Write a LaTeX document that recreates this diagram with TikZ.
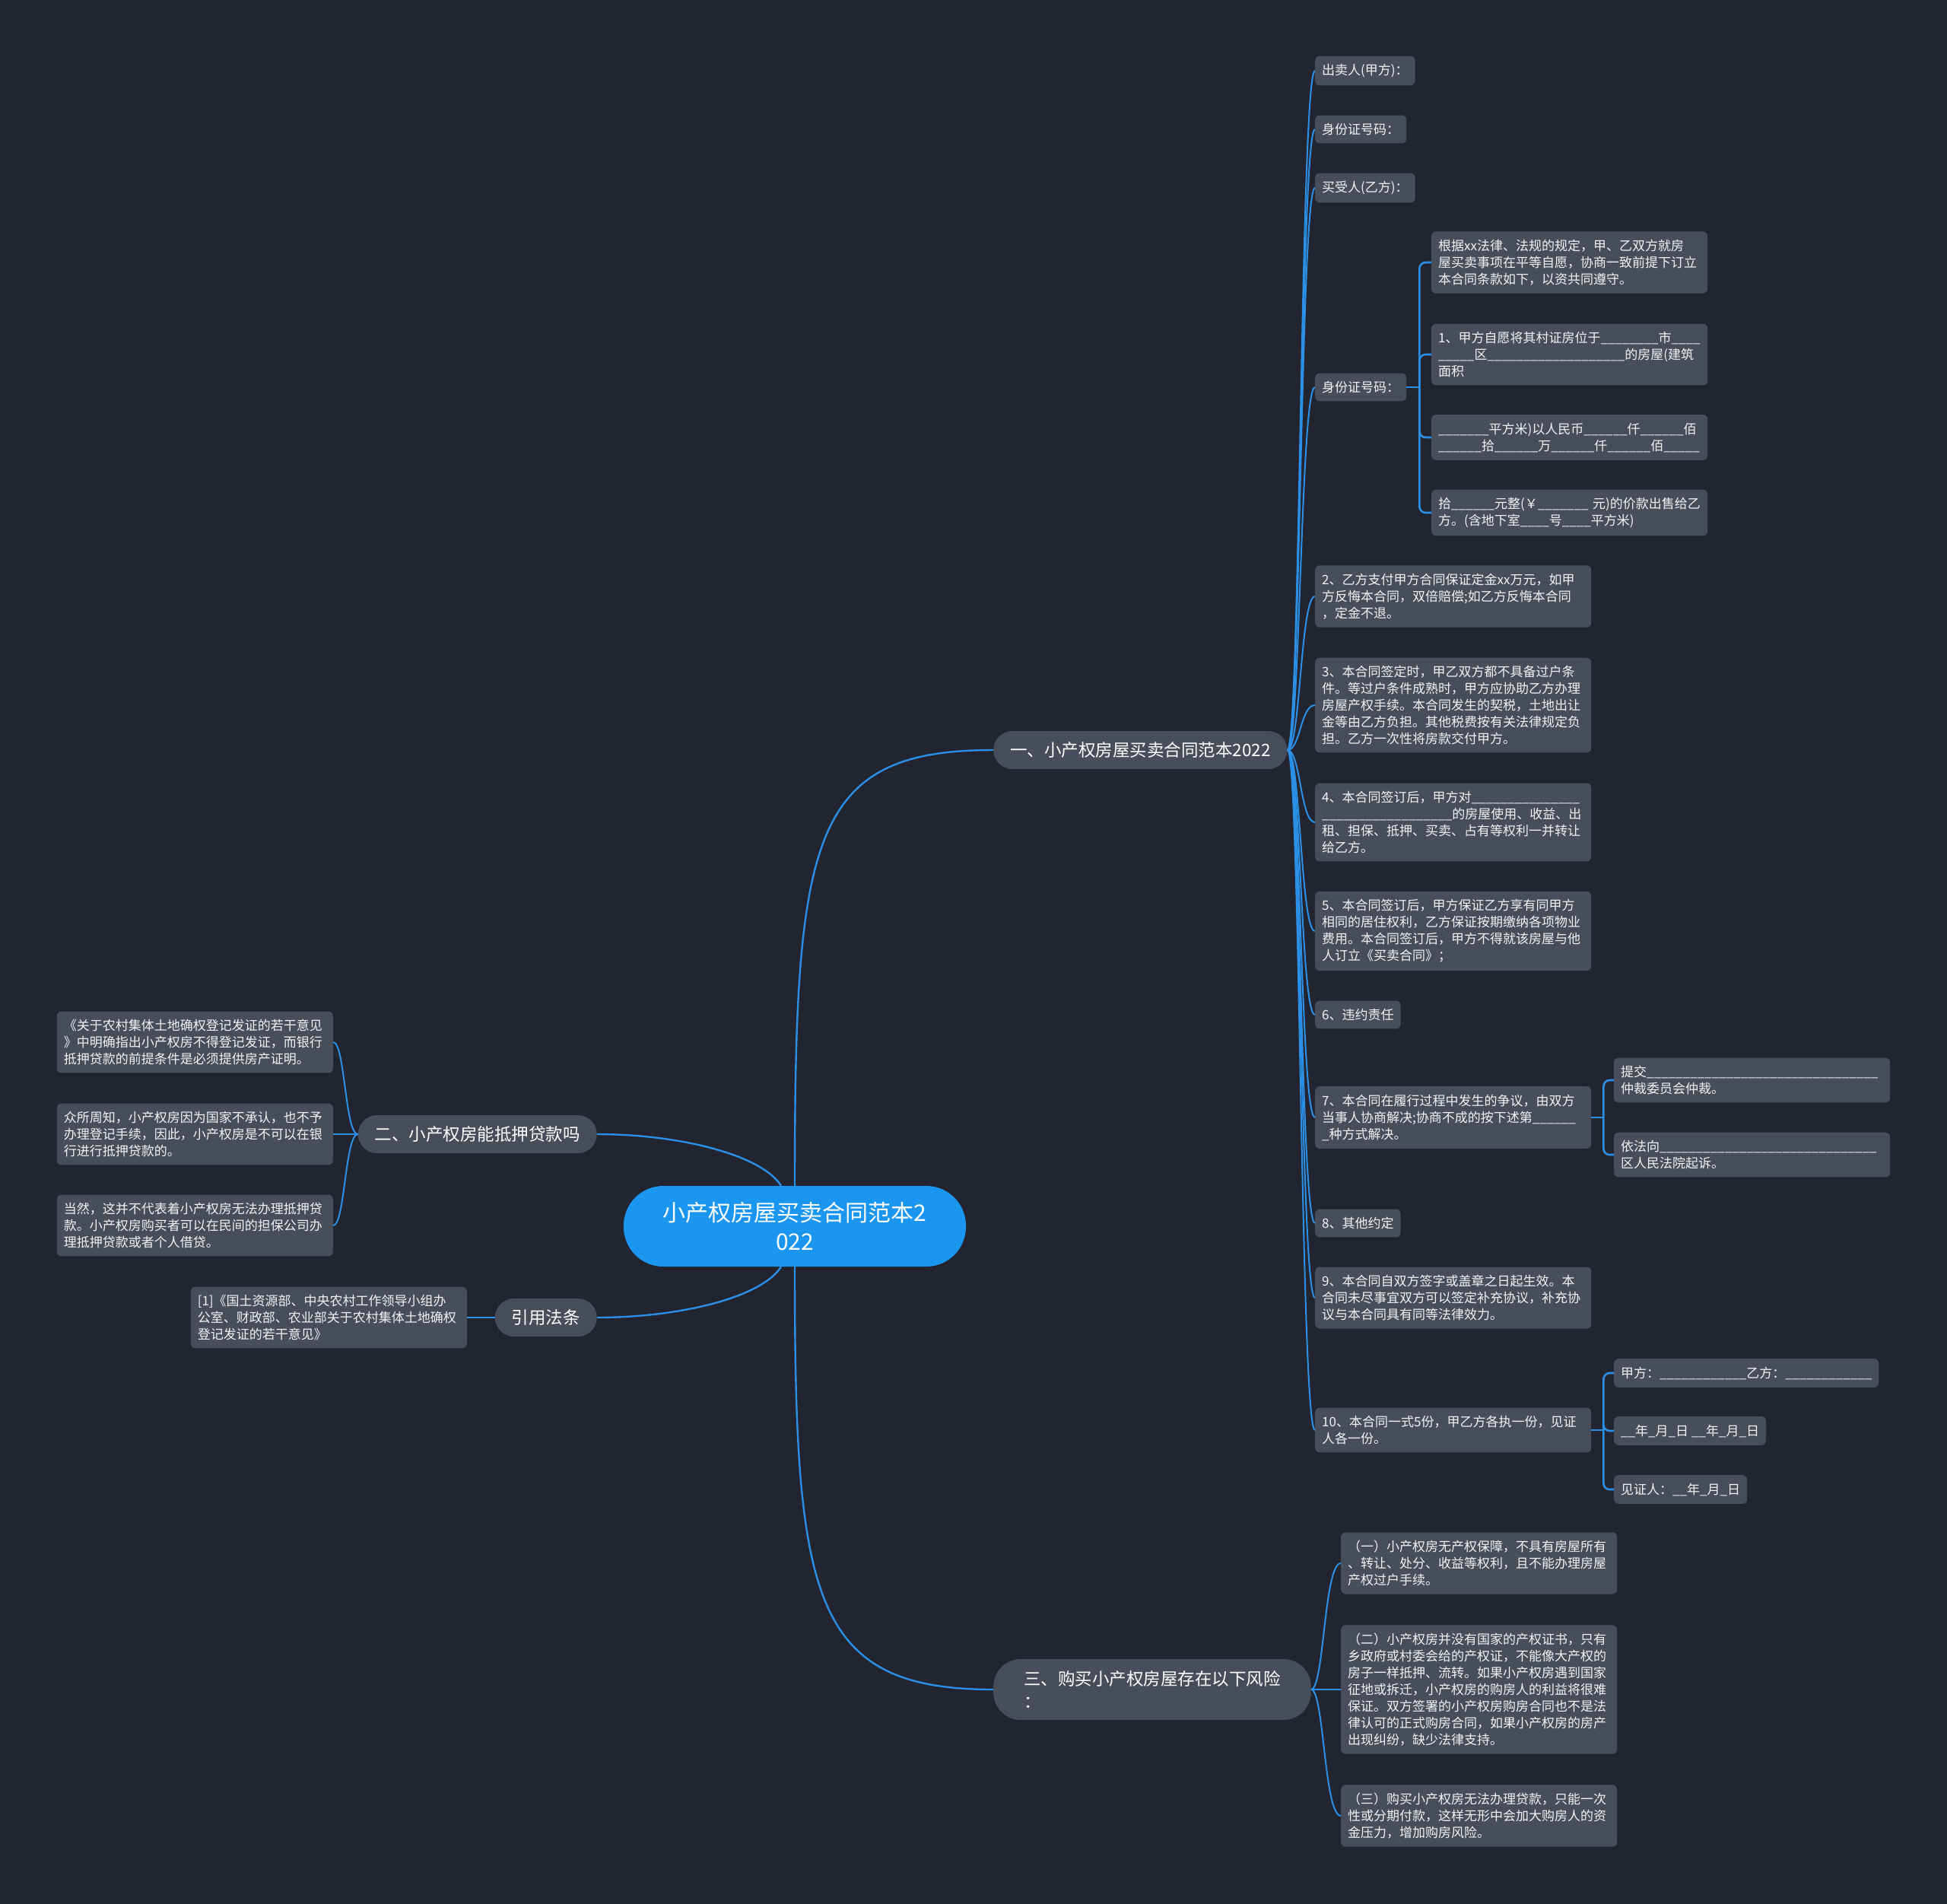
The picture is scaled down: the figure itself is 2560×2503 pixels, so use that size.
\documentclass[tikz,border=0pt]{standalone}
\usepackage{fontspec}
\setmainfont{Noto Sans CJK SC}
\usepackage{tikz}
\definecolor{bgnavy}{HTML}{22252F}
\definecolor{boxgray}{HTML}{474D5B}
\definecolor{linkblue}{HTML}{2B8FE6}
\definecolor{rootblue}{HTML}{1A96F0}
\definecolor{paper}{HTML}{F2F3F5}
\newcommand{\blank}[1]{\foreach \k in {1,...,#1}{\_}}

\tikzset{
  rootbox/.style={fill=rootblue, text=white, rounded corners=52pt, minimum width=450pt,
    minimum height=106pt, align=center, font=\fontsize{30}{38}\selectfont},
  topicbox/.style={fill=boxgray, text=white, rounded corners=25pt, minimum height=50pt,
    inner xsep=22pt, font=\fontsize{22.5}{30}\selectfont},
  leafbox/.style={fill=boxgray, text=paper, rounded corners=6pt, inner xsep=9pt,
    inner ysep=10.5pt, align=left, anchor=west, font=\fontsize{17}{22}\selectfont},
  longleaf/.style={leafbox, text width=345pt},
  rootlink/.style={draw=linkblue, line width=2.4pt},
  curvelink/.style={draw=linkblue, line width=2pt},
  elbowlink/.style={draw=linkblue, line width=2.6pt, rounded corners=8pt},
}

\begin{document}
\begin{tikzpicture}[x=1pt, y=-1pt]
\fill[bgnavy] (0,0) rectangle (2560,2503);

% centre and main topics
\node[rootbox] (root) at (1045,1612) {小产权房屋买卖合同范本2\\022};
\node[topicbox, anchor=west] (contract) at (1306,986) {一、小产权房屋买卖合同范本2022};
\node[topicbox, anchor=east] (loan) at (785,1491) {二、小产权房能抵押贷款吗};
\node[topicbox, anchor=east] (cite) at (785,1732) {引用法条};
\node[topicbox, anchor=west, rounded corners=36pt, minimum height=80pt, inner xsep=40pt,
  align=left] (risk) at (1306,2221) {三、购买小产权房屋存在以下风险\\：};

% contract
\node[leafbox] (seller) at (1729,93) {出卖人(甲方)：};
\node[leafbox] (idA) at (1729,170) {身份证号码：};
\node[leafbox] (buyer) at (1729,247) {买受人(乙方)：};
\node[leafbox] (idB) at (1729,509) {身份证号码：};
\node[longleaf] (basis) at (1882,345) {根据xx法律、法规的规定，甲、乙双方就房\\屋买卖事项在平等自愿，协商一致前提下订立\\本合同条款如下，以资共同遵守。};
\node[longleaf] (house) at (1882,466) {1、甲方自愿将其村证房位于\blank{8}市\blank{4}\\\blank{5}区\blank{19}的房屋(建筑\\面积};
\node[longleaf] (price) at (1882,575) {\blank{7}平方米)以人民币\blank{6}仟\blank{6}佰\\\blank{6}拾\blank{6}万\blank{6}仟\blank{6}佰\blank{5}};
\node[longleaf] (total) at (1882,674) {拾\blank{6}元整(￥\blank{7} 元)的价款出售给乙\\方。(含地下室\blank{4}号\blank{4}平方米)};
\node[longleaf] (art2) at (1729,784) {2、乙方支付甲方合同保证定金xx万元，如甲\\方反悔本合同，双倍赔偿;如乙方反悔本合同\\，定金不退。};
\node[longleaf] (art3) at (1729,927) {3、本合同签定时，甲乙双方都不具备过户条\\件。等过户条件成熟时，甲方应协助乙方办理\\房屋产权手续。本合同发生的契税，土地出让\\金等由乙方负担。其他税费按有关法律规定负\\担。乙方一次性将房款交付甲方。};
\node[longleaf] (art4) at (1729,1081) {4、本合同签订后，甲方对\blank{15}\\\blank{18}的房屋使用、收益、出\\租、担保、抵押、买卖、占有等权利一并转让\\给乙方。};
\node[longleaf] (art5) at (1729,1224) {5、本合同签订后，甲方保证乙方享有同甲方\\相同的居住权利，乙方保证按期缴纳各项物业\\费用。本合同签订后，甲方不得就该房屋与他\\人订立《买卖合同》；};
\node[leafbox] (art6) at (1729,1334) {6、违约责任};
\node[longleaf] (art7) at (1729,1469) {7、本合同在履行过程中发生的争议，由双方\\当事人协商解决;协商不成的按下述第\blank{6}\\\_种方式解决。};
\node[longleaf] (arbit) at (2122,1420) {提交\blank{32}\\仲裁委员会仲裁。};
\node[longleaf] (court) at (2122,1518) {依法向\blank{30}\\区人民法院起诉。};
\node[leafbox] (art8) at (1729,1608) {8、其他约定};
\node[longleaf] (art9) at (1729,1706) {9、本合同自双方签字或盖章之日起生效。本\\合同未尽事宜双方可以签定补充协议，补充协\\议与本合同具有同等法律效力。};
\node[longleaf] (art10) at (1729,1880) {10、本合同一式5份，甲乙方各执一份，见证\\人各一份。};
\node[leafbox] (signA) at (2122,1805) {甲方：\blank{12}乙方：\blank{12}};
\node[leafbox] (signDate) at (2122,1881) {\blank{2}年\_月\_日 \blank{2}年\_月\_日};
\node[leafbox] (witness) at (2122,1958) {见证人：\blank{2}年\_月\_日};

% loan
\node[longleaf, anchor=east] (opinion) at (438,1370) {《关于农村集体土地确权登记发证的若干意见\\》中明确指出小产权房不得登记发证，而银行\\抵押贷款的前提条件是必须提供房产证明。};
\node[longleaf, anchor=east] (known) at (438,1491) {众所周知，小产权房因为国家不承认，也不予\\办理登记手续，因此，小产权房是不可以在银\\行进行抵押贷款的。};
\node[longleaf, anchor=east] (however) at (438,1611) {当然，这并不代表着小产权房无法办理抵押贷\\款。小产权房购买者可以在民间的担保公司办\\理抵押贷款或者个人借贷。};
\node[longleaf, anchor=east] (law) at (614,1732) {[1]《国土资源部、中央农村工作领导小组办\\公室、财政部、农业部关于农村集体土地确权\\登记发证的若干意见》};

% risk
\node[longleaf] (riskA) at (1763,2055) {（一）小产权房无产权保障，不具有房屋所有\\、转让、处分、收益等权利，且不能办理房屋\\产权过户手续。};
\node[longleaf] (riskB) at (1763,2221) {（二）小产权房并没有国家的产权证书，只有\\乡政府或村委会给的产权证，不能像大产权的\\房子一样抵押、流转。如果小产权房遇到国家\\征地或拆迁，小产权房的购房人的利益将很难\\保证。双方签署的小产权房购房合同也不是法\\律认可的正式购房合同，如果小产权房的房产\\出现纠纷，缺少法律支持。};
\node[longleaf] (riskC) at (1763,2387) {（三）购买小产权房无法办理贷款，只能一次\\性或分期付款，这样无形中会加大购房人的资\\金压力，增加购房风险。};

% links from the centre
\coordinate (rootNW) at ([xshift=-18pt]root.north);
\coordinate (rootSW) at ([xshift=-18pt]root.south);
\draw[rootlink] (root.north) .. controls +(0,-460) and +(-240,0) .. (contract.west);
\draw[rootlink] (root.south) .. controls +(0,435) and +(-240,0) .. (risk.west);
\draw[rootlink] (loan.east) .. controls +(110,0) and +(-25,-40) .. (rootNW);
\draw[rootlink] (cite.east) .. controls +(110,0) and +(-25,40) .. (rootSW);

% curved links
\coordinate (sp1) at ([xshift=17pt]contract.east);
\foreach \k in {seller,idA,buyer,idB,art2,art3,art4,art5,art6,art7,art8,art9,art10}
  \draw[curvelink] (contract.east) .. controls (sp1) and (sp1 |- \k.west) .. (\k.west);
\coordinate (sp2) at ([xshift=-17pt]loan.west);
\foreach \k in {opinion,known,however}
  \draw[curvelink] (loan.west) .. controls (sp2) and (sp2 |- \k.east) .. (\k.east);
\coordinate (sp3) at ([xshift=17pt]risk.east);
\foreach \k in {riskA,riskB,riskC}
  \draw[curvelink] (risk.east) .. controls (sp3) and (sp3 |- \k.west) .. (\k.west);

% elbow links
\coordinate (sp4) at ([xshift=17pt]idB.east);
\draw[elbowlink] (idB.east) -- (sp4);
\foreach \k in {basis,house,price,total}
  \draw[elbowlink] (sp4) |- (\k.west);
\coordinate (sp7) at ([xshift=16pt]art7.east);
\draw[elbowlink] (art7.east) -- (sp7);
\foreach \k in {arbit,court}
  \draw[elbowlink] (sp7) |- (\k.west);
\coordinate (sp10) at ([xshift=16pt]art10.east);
\draw[elbowlink] (art10.east) -- (sp10);
\foreach \k in {signA,signDate,witness}
  \draw[elbowlink] (sp10) |- (\k.west);
\draw[elbowlink] (cite.west) -- (law.east);
\end{tikzpicture}
\end{document}
